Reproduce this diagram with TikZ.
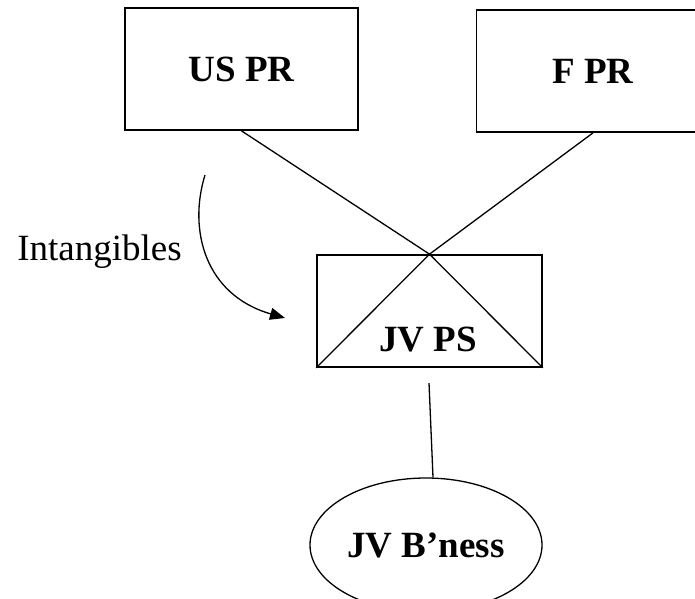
\documentclass[tikz,border=0pt]{standalone}
\usepackage{fontspec}
\setmainfont{Liberation Serif}
\usetikzlibrary{positioning,
        shapes,
        arrows.meta}

\begin{document}
\begin{tikzpicture}[x=1pt,y=-1pt,
        bigfont/.style={font=\fontsize{37}{44}\selectfont},
        box/.style={rectangle,draw,line width=1.7pt,inner sep=0pt,
                minimum width=233pt,minimum height=122pt,bigfont,font=\fontsize{37}{44}\selectfont\bfseries},
        link/.style={line width=1.3pt}]
        \useasboundingbox (0,0) rectangle (695,598);
        \clip (0,0) rectangle (695,598);

        \node [box] (uspr) at (241.5,69) {US PR};
        \node [box] (fpr) at (593,71) {F PR};
        \node [box,minimum width=225pt,minimum height=112pt] (jvps) at (429.5,311) {};
        \node [bigfont,font=\fontsize{37}{44}\selectfont\bfseries] (jvpstext) at (428,340) {JV PS};
        \node [ellipse,draw,line width=1.3pt,minimum width=232pt,minimum height=134pt,
                inner sep=0pt,font=\fontsize{37}{44}\selectfont\bfseries] (biz) at (426,545) {JV B’ness};
        \node [bigfont,anchor=base] (intang) at (99.5,260) {Intangibles};

        \coordinate (jvtail) at (429,383);
        \coordinate (arrstart) at (205,175);
        \coordinate (arrend) at (285,318);

        \draw [link] (uspr.south) -- (jvps.north);
        \draw [link] (fpr.south) -- (jvps.north);
        \draw [link] (jvps.north) -- (jvps.south west);
        \draw [link] (jvps.north) -- (jvps.south east);
        \draw [link] (jvtail) -- ([xshift=7pt]biz.north);
        \draw [link,-{Triangle[length=15pt,width=12pt]}] (arrstart) .. controls (188,230) and (205,295) .. (arrend);
    \end{tikzpicture}
\end{document}
